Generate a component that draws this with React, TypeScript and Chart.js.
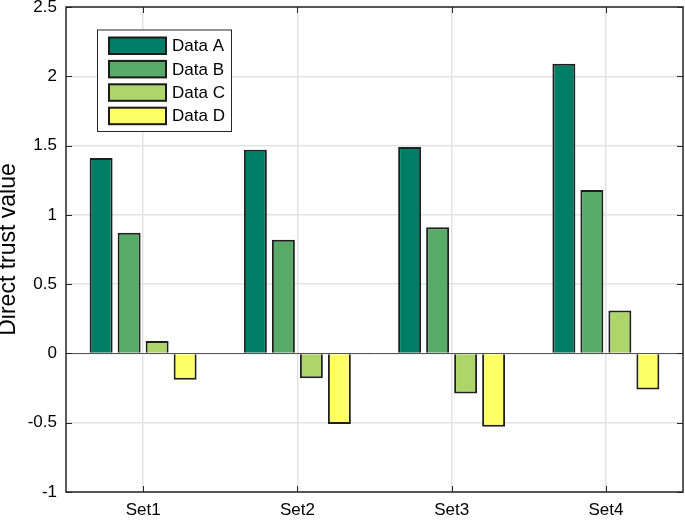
import React, { useEffect, useRef } from "react";
import { Chart, registerables } from "chart.js";

Chart.register(...registerables);

const categories = ["Set1", "Set2", "Set3", "Set4"];
const seriesNames = ["Data A", "Data B", "Data C", "Data D"];
const dataA = [1.41, 1.47, 1.49, 2.09];
const dataB = [0.87, 0.82, 0.91, 1.18];
const dataC = [0.09, -0.18, -0.29, 0.31];
const dataD = [-0.19, -0.51, -0.53, -0.26];
const seriesColors = ["#007E65", "#57AB67", "#ADD56A", "#FFFF66"];
const yTickValues = [-1, -0.5, 0, 0.5, 1, 1.5, 2, 2.5];
const yTickLabels = ["-1", "-0.5", "0", "0.5", "1", "1.5", "2", "2.5"];
const yAxisTitle = "Direct trust value";

const FONT = "'Liberation Sans', Arial, Helvetica, sans-serif";
const AXIS = "#262626";

const framePlugin = {
  id: "frame",
  afterDatasetsDraw(chart: any) {
    const { ctx, chartArea } = chart;
    const { left, right, top, bottom } = chartArea;
    const ys = chart.scales.y;
    const xs = chart.scales.x;
    ctx.save();
    // zero baseline
    const y0 = Math.round(ys.getPixelForValue(0)) + 0.5;
    ctx.strokeStyle = "#555555";
    ctx.lineWidth = 1;
    ctx.beginPath();
    ctx.moveTo(left, y0);
    ctx.lineTo(right, y0);
    ctx.stroke();
    // box
    ctx.strokeStyle = AXIS;
    ctx.lineWidth = 1.5;
    ctx.strokeRect(left, top, right - left, bottom - top);
    // inward ticks
    ctx.lineWidth = 1;
    ys.ticks.forEach((t: any) => {
      const py = Math.round(ys.getPixelForValue(t.value)) + 0.5;
      ctx.beginPath();
      ctx.moveTo(left, py);
      ctx.lineTo(left + 6, py);
      ctx.moveTo(right, py);
      ctx.lineTo(right - 6, py);
      ctx.stroke();
    });
    xs.ticks.forEach((_t: any, i: number) => {
      const px = Math.round(xs.getPixelForValue(i)) + 0.5;
      ctx.beginPath();
      ctx.moveTo(px, bottom);
      ctx.lineTo(px, bottom - 6);
      ctx.moveTo(px, top);
      ctx.lineTo(px, top + 6);
      ctx.stroke();
    });
    // legend
    const bx = left + 31;
    const by = top + 22.5;
    const bw = 134;
    const bh = 101.5;
    ctx.fillStyle = "#ffffff";
    ctx.fillRect(bx, by, bw, bh);
    ctx.strokeStyle = AXIS;
    ctx.lineWidth = 1;
    ctx.strokeRect(bx + 0.5, by + 0.5, bw, bh);
    ctx.font = `17px ${FONT}`;
    ctx.textBaseline = "middle";
    ctx.textAlign = "left";
    chart.data.datasets.forEach((ds: any, i: number) => {
      const sy = by + 8 + i * 23.4;
      ctx.fillStyle = ds.backgroundColor;
      ctx.fillRect(bx + 12, sy, 57, 16.5);
      ctx.strokeStyle = "#1a1a1a";
      ctx.lineWidth = 2;
      ctx.strokeRect(bx + 12, sy, 57, 16.5);
      ctx.fillStyle = "#000000";
      ctx.fillText(ds.label, bx + 75, sy + 9);
    });
    ctx.restore();
  },
};

export default function App() {
  const ref = useRef<HTMLCanvasElement>(null);
  useEffect(() => {
    if (!ref.current) return;
    const values = [dataA, dataB, dataC, dataD];
    const chart = new Chart(ref.current, {
      type: "bar",
      data: {
        labels: categories,
        datasets: seriesNames.map((name, i) => ({
          label: name,
          data: values[i],
          backgroundColor: seriesColors[i],
          borderColor: "#1f1f1f",
          borderWidth: 2,
          categoryPercentage: 0.726,
          barPercentage: 0.82,
        })),
      },
      options: {
        responsive: false,
        animation: false,
        devicePixelRatio: 1,
        layout: { padding: { top: 7, right: 2, left: 0, bottom: 0 } },
        plugins: { legend: { display: false }, tooltip: { enabled: false } },
        scales: {
          x: {
            offset: true,
            grid: { offset: false, color: "#E3E3E3", drawTicks: false, lineWidth: 1.5 },
            border: { display: false },
            ticks: { color: "#000", font: { family: FONT, size: 17 }, padding: 8 },
            afterFit(scale: any) {
              scale.height = 29;
              scale.paddingLeft = 0;
              scale.paddingRight = 0;
            },
          },
          y: {
            min: -1,
            max: 2.5,
            afterBuildTicks(scale: any) {
              scale.ticks = yTickValues.map((v) => ({ value: v }));
            },
            grid: { color: "#E3E3E3", drawTicks: false, lineWidth: 1.5 },
            border: { display: false },
            ticks: {
              color: "#000",
              font: { family: FONT, size: 17 },
              padding: 9,
              callback: (v: any) => {
                const idx = yTickValues.indexOf(Number(v));
                return idx >= 0 ? yTickLabels[idx] : "";
              },
            },
            title: {
              display: true,
              text: yAxisTitle,
              color: "#000",
              font: { family: FONT, size: 23, lineHeight: 0.78 },
              padding: { top: 0, bottom: 0 },
            },
            afterFit(scale: any) {
              scale.width = 66;
              scale.paddingTop = 0;
              scale.paddingBottom = 0;
            },
          },
        },
      },
      plugins: [framePlugin],
    });
    return () => chart.destroy();
  }, []);
  return (
    <div style={{ position: "absolute", left: 0, top: 0, width: 685, height: 521, background: "#fff" }}>
      <canvas ref={ref} width={685} height={521} />
    </div>
  );
}
